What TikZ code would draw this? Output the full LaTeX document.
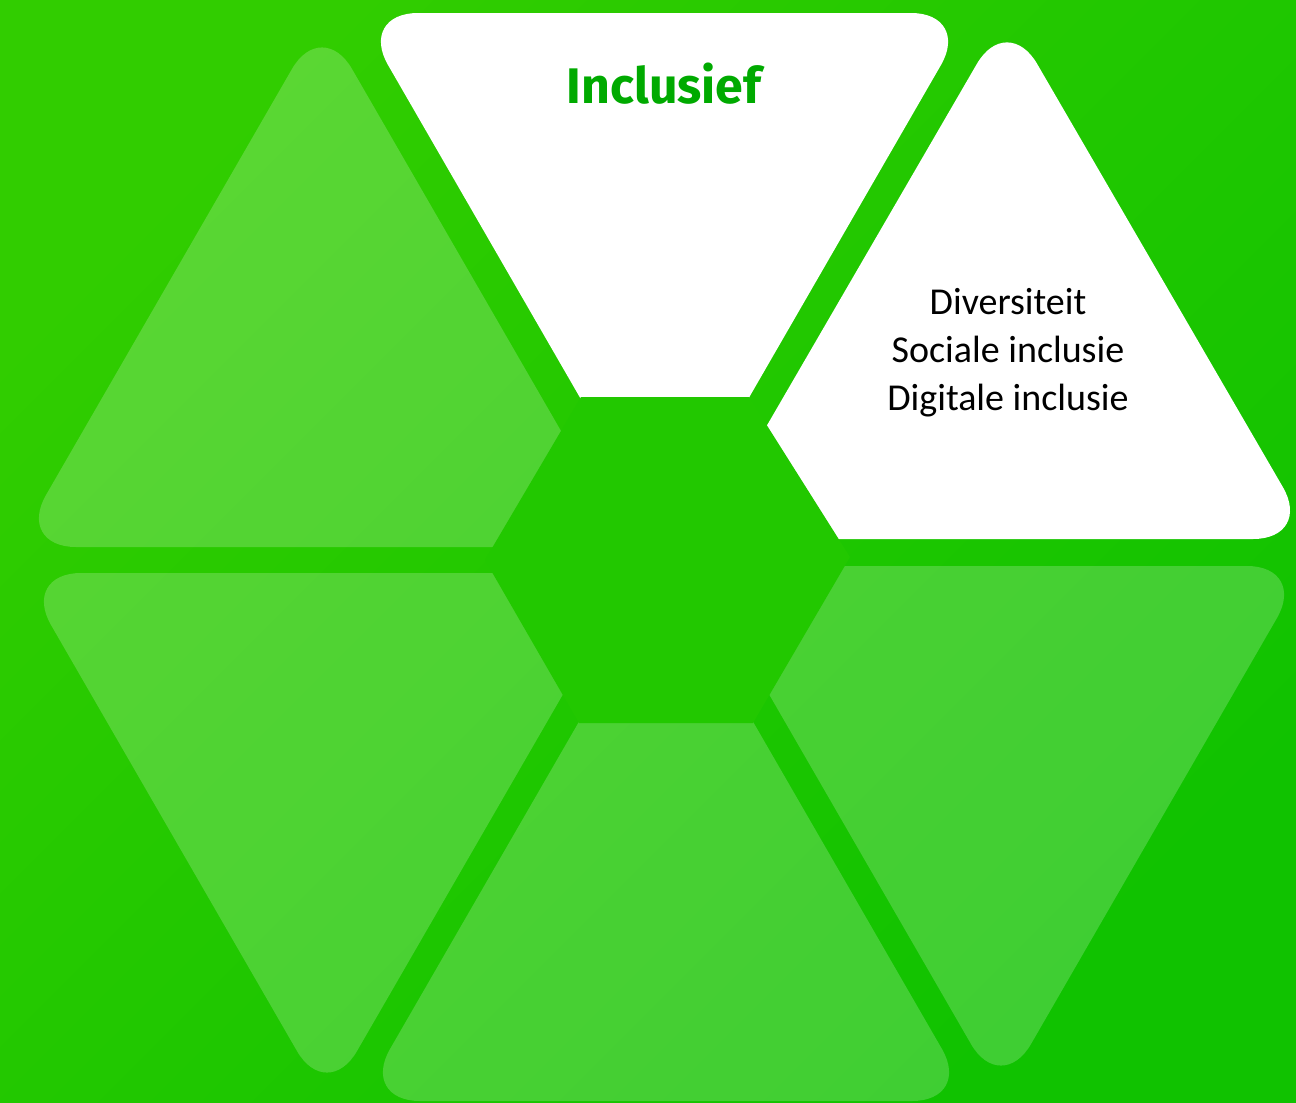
\documentclass[tikz,border=0pt]{standalone}
\usepackage{fontspec}
\setmainfont{Carlito}
\newfontfamily\headfont{Fira Sans}
\definecolor{bgtop}{RGB}{49,205,0}
\definecolor{bgbottom}{RGB}{16,194,0}
\definecolor{hexgreen}{RGB}{34,200,0}
\definecolor{titlegreen}{RGB}{0,170,0}

\begin{document}
\begin{tikzpicture}[x=0.5pt, y=-0.5pt]

    \tikzstyle{piece}=[rounded corners=30pt];
    \tikzstyle{dim}=[piece, fill=white, fill opacity=0.2];
    \tikzstyle{lit}=[piece, fill=white];

    \shade[top color=bgtop, bottom color=bgbottom, shading angle=45] (0,0) rectangle (1296,1103);
    \useasboundingbox (0,0) rectangle (1296,1103);

    % upper pieces
    \fill[lit] (358,13) -- (971,13) -- (664.5,544) -- cycle;
    \fill[lit] (701,539) -- (1313,539) -- (1007,12) -- cycle;
    \fill[dim] (16,547) -- (628,547) -- (322,17) -- cycle;

    % lower pieces
    \fill[dim] (21,573) -- (633,573) -- (327,1103) -- cycle;
    \fill[dim] (360,1101) -- (972,1101) -- (666,571) -- cycle;
    \fill[dim] (695,566) -- (1307,566) -- (1001,1096) -- cycle;

    % centre
    \fill[hexgreen] (581,397) -- (749,397) -- (850,557) -- (753,723) -- (579,723) -- (485,560) -- cycle;

    \node (title) at (664,84) [font=\headfont\bfseries\fontsize{25}{30}\selectfont, text=titlegreen] {Inclusief};
    \node (list) at (1008,353) [align=center, font=\fontsize{19}{24}\selectfont] {Diversiteit\\Sociale inclusie\\Digitale inclusie};

\end{tikzpicture}
\end{document}
